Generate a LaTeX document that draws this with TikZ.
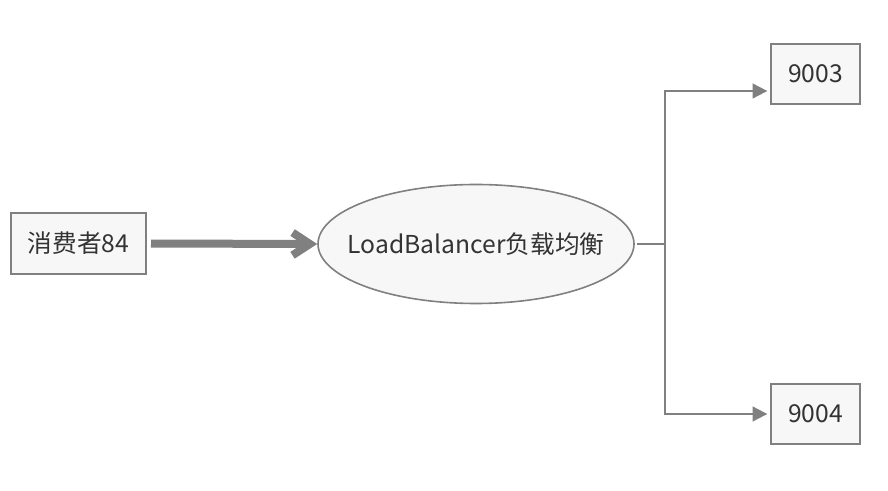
\documentclass[tikz,border=0pt]{standalone}
\usepackage{fontspec}
\setmainfont{Noto Sans CJK SC}
\usetikzlibrary{arrows.meta,positioning,calc,shapes.geometric}
\definecolor{edgegray}{HTML}{808080}
\definecolor{boxfill}{HTML}{F7F7F7}
\definecolor{textgray}{HTML}{333333}

\begin{document}
\begin{tikzpicture}[x=0.75pt,y=-0.75pt,font=\fontsize{18.5}{22}\selectfont]
\tikzset{
  boxstyle/.style={draw=edgegray,fill=boxfill,line width=1.5pt,text=textgray,inner sep=0pt},
  lbstyle/.style={ellipse,draw=edgegray,fill=boxfill,line width=1.2pt,text=textgray,inner sep=0pt,
    minimum width=237pt,minimum height=89.25pt},
  fatarrow/.style={edgegray,line width=6pt,-{Straight Barb[length=13pt,width=17pt]}},
  thinarrow/.style={edgegray,line width=1.5pt,-{Triangle[length=11pt,width=11pt]},shorten >=2pt}
}
\useasboundingbox (0,0) rectangle (888,491);
% nodes
\node[boxstyle,minimum width=101.25pt,minimum height=45.75pt] (consumer) at (78.5,243.5) {消费者84};
\node[lbstyle] (lb) at (476,244) {\makebox[0pt]{LoadBalancer负载均衡}};
\node[boxstyle,minimum width=66.75pt,minimum height=45pt] (top) at (815.5,74) {9003};
\node[boxstyle,minimum width=66.75pt,minimum height=45pt] (bottom) at (815.5,414) {9004};
% connectors
\draw[fatarrow,shorten <=3pt] (consumer.east) -- (lb.west);
\draw[edgegray,line width=1.5pt] ([xshift=2pt]lb.east) -- ++(28,0) coordinate (split);
\draw[thinarrow] (split) |- ($(top.west)+(0,17)$);
\draw[thinarrow] (split) |- (bottom.west);
\end{tikzpicture}
\end{document}
